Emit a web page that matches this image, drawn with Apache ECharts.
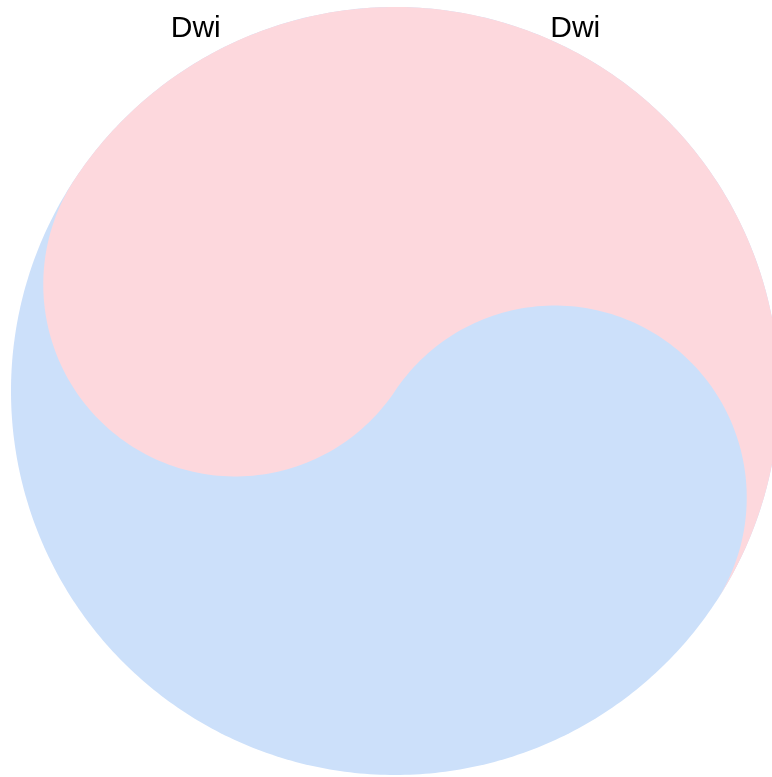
<!DOCTYPE html>
<html>
<head>
<meta charset="utf-8">
<script src="https://cdn.jsdelivr.net/npm/echarts@6/dist/echarts.min.js"></script>
<style>html,body{margin:0;padding:0;background:#fff;}#main{width:772px;height:777px;}</style>
</head>
<body>
<div id="main"></div>
<script>
// ---- data ----
const labelCategories = ['Dwi', 'Dwi'];
const centerX = [0];
const centerY = [0];
const outerRadius = [1];
const tiltDegrees = [33.7];

const chart = echarts.init(document.getElementById('main'), null, {renderer: 'canvas'});

const shapeData = centerX.map((x, i) => [x, centerY[i], outerRadius[i], tiltDegrees[i]]);

function renderTaegeuk(params, api) {
  const cx = api.value(0), cy = api.value(1), R = api.value(2);
  const t = api.value(3) * Math.PI / 180;
  const N = 240;
  const toPx = (x, y) => api.coord([x, y]);
  const blue = [];
  for (let k = 0; k < 2 * N; k++) {
    const a = 2 * Math.PI * k / (2 * N);
    blue.push(toPx(cx + R * Math.cos(a), cy + R * Math.sin(a)));
  }
  const red = [];
  for (let k = 0; k <= N; k++) {
    const a = -t + Math.PI * k / N;
    red.push(toPx(cx + R * Math.cos(a), cy + R * Math.sin(a)));
  }
  const r = R / 2;
  const l1x = cx + r * Math.cos(Math.PI - t), l1y = cy + r * Math.sin(Math.PI - t);
  for (let k = 1; k <= N / 2; k++) {
    const a = Math.PI - t + Math.PI * k / (N / 2);
    red.push(toPx(l1x + r * Math.cos(a), l1y + r * Math.sin(a)));
  }
  const l2x = cx + r * Math.cos(-t), l2y = cy + r * Math.sin(-t);
  for (let k = 1; k < N / 2; k++) {
    const a = Math.PI - t - Math.PI * k / (N / 2);
    red.push(toPx(l2x + r * Math.cos(a), l2y + r * Math.sin(a)));
  }
  return {
    type: 'group',
    children: [
      {type: 'polygon', shape: {points: blue}, style: {fill: '#CCE0FA'}},
      {type: 'polygon', shape: {points: red}, style: {fill: '#FDD8DD'}}
    ]
  };
}

// grid 0: 384 px per unit, center at (395, 391), clipped to the canvas width
chart.setOption({
  animation: false,
  grid: [
    {left: 11, top: 7, width: 761, height: 768},
    {left: 6, top: 7, width: 759, height: 100}
  ],
  xAxis: [
    {type: 'value', gridIndex: 0, min: -1, max: 377 / 384, show: false},
    {type: 'category', gridIndex: 1, position: 'top', data: labelCategories,
     axisLine: {show: false}, axisTick: {show: false}, splitLine: {show: false},
     axisLabel: {inside: true, margin: 7, fontSize: 30, color: '#000', fontFamily: 'Liberation Sans, Arial, sans-serif'}}
  ],
  yAxis: [
    {type: 'value', gridIndex: 0, min: -1, max: 1, show: false},
    {type: 'value', gridIndex: 1, show: false}
  ],
  series: [{
    type: 'custom',
    xAxisIndex: 0, yAxisIndex: 0,
    data: shapeData,
    renderItem: renderTaegeuk,
    silent: true,
    clip: false,
    z: 1
  }]
});
</script>
</body>
</html>
